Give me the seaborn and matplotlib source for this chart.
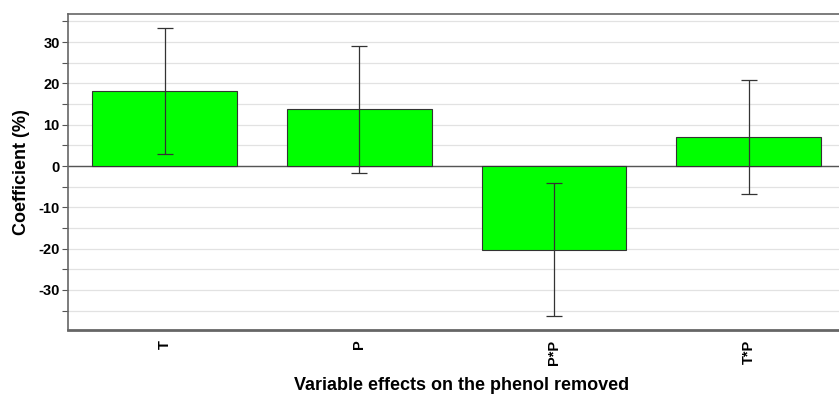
import matplotlib
matplotlib.use("Agg")
import matplotlib.pyplot as plt
import seaborn as sns
import pandas as pd
import numpy as np

categories = ["T", "P", "P*P", "T*P"]
coefficients = [18.1, 13.7, -20.3, 7.0]
errors = [15.3, 15.3, 16.1, 13.8]

sns.set_theme(style="white")
plt.rcParams['font.family'] = ['Liberation Sans', 'DejaVu Sans']
plt.rcParams['axes.unicode_minus'] = False
plt.rcParams['text.color'] = 'black'
plt.rcParams['axes.labelcolor'] = 'black'
plt.rcParams['xtick.color'] = 'black'
plt.rcParams['ytick.color'] = 'black'

df = pd.DataFrame({"effect": categories, "coef": coefficients})

fig = plt.figure(figsize=(8.39, 3.99), dpi=100)
ax = fig.add_axes([68/839, 1 - 330/399, 1 - 68/839 + 0.02, (330 - 14)/399])

sns.barplot(data=df, x="effect", y="coef", ax=ax, color="#00ff00",
            edgecolor="#333333", linewidth=0.8, width=0.742, saturation=1,
            errorbar=None, zorder=3)
ax.errorbar(np.arange(len(categories)), coefficients, yerr=errors, fmt="none",
            ecolor="#333333", elinewidth=0.9, capsize=6, capthick=0.9, zorder=4)

ax.set_ylim(-39.7, 36.8)
ax.set_xlim(-0.496, 3.55)
ax.set_yticks([-30, -20, -10, 0, 10, 20, 30])
ax.set_yticks(np.arange(-35, 40, 5), minor=True)
ax.yaxis.grid(True, which="both", color="#e2e2e2", linewidth=0.9, zorder=0)
ax.set_axisbelow(True)
ax.axhline(0, color="#555555", linewidth=1.0, zorder=2)

ax.tick_params(axis="y", which="both", left=True, length=4, width=0.8, color="#555555",
               labelsize=10.5, pad=2, labelcolor="black")
ax.tick_params(axis="x", bottom=False, length=0, labelsize=10.5, pad=7, labelcolor="black")
for lab in ax.get_yticklabels():
    lab.set_fontweight("bold")
for lab in ax.get_xticklabels():
    lab.set_fontweight("bold")
    lab.set_rotation(90)
    lab.set_va("top")

for s in ["top", "left", "bottom"]:
    ax.spines[s].set_color("#666666")
ax.spines["top"].set_linewidth(1.2)
ax.spines["left"].set_linewidth(1.2)
ax.spines["bottom"].set_linewidth(2.0)
ax.spines["right"].set_visible(False)

ax.set_xlabel("Variable effects on the phenol removed", fontsize=13, fontweight="bold",
              labelpad=9, color="black")
ax.set_ylabel("Coefficient (%)", fontsize=13, fontweight="bold", labelpad=6, color="black")

fig.savefig("out.png", dpi=100)
